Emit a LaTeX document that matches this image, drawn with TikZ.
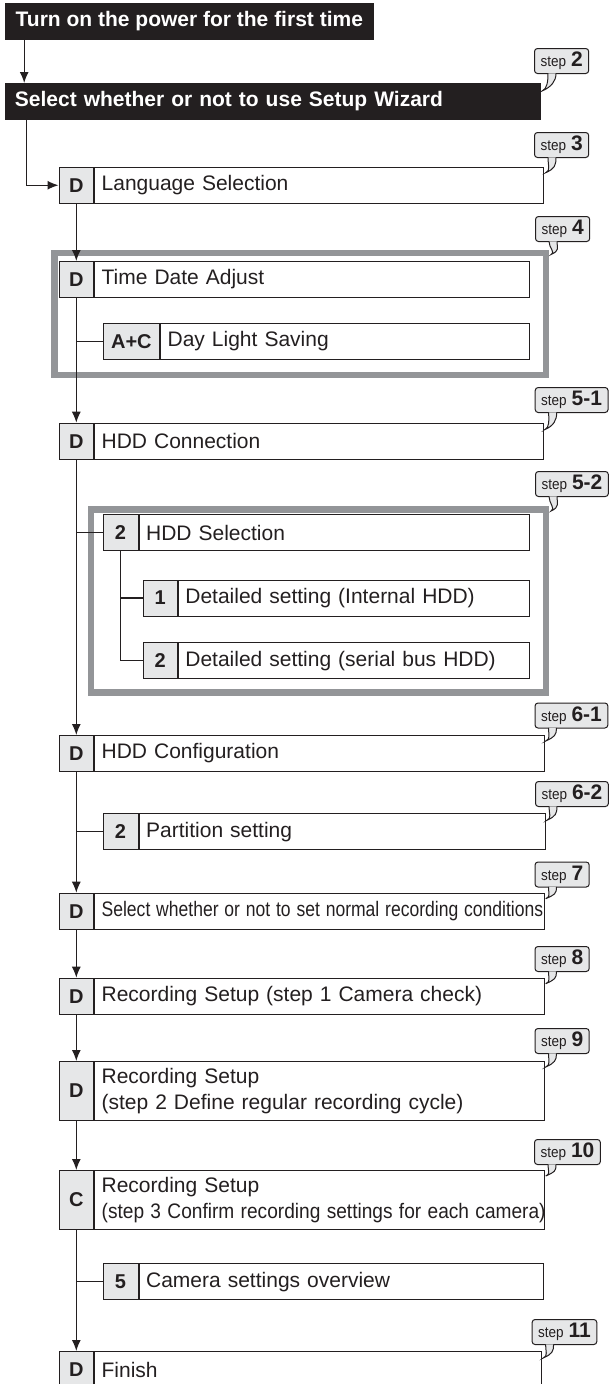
\documentclass[tikz,border=0pt]{standalone}
\usepackage{fontspec}
\usepackage{graphicx}
\setmainfont{Liberation Sans}
\usetikzlibrary{arrows.meta,calc}
\definecolor{ink}{HTML}{231F20}
\definecolor{cellgray}{HTML}{E6E7E8}
\definecolor{framegray}{HTML}{939598}
\newcommand{\steplbl}[1]{\scalebox{0.9}[1]{\fontsize{15}{20}\selectfont step}\hspace{5pt}{\fontsize{21}{20}\selectfont\bfseries #1}}

\begin{document}
\begin{tikzpicture}[x=1pt, y=-1pt,
  every node/.style={font=\fontsize{21}{26}\selectfont, text=ink},
  start/.style={fill=ink, text=white, font=\fontsize{21}{26}\selectfont\bfseries,
    anchor=north west, inner xsep=10pt, inner ysep=0pt, minimum height=36.5pt, align=left},
  cell/.style={draw=ink, line width=1.1pt, fill=cellgray, anchor=north west, inner sep=0pt,
    minimum width=34.5pt, minimum height=36pt, font=\fontsize{20}{24}\selectfont\bfseries},
  row/.style={draw=ink, line width=1.1pt, anchor=north west, inner xsep=7pt, inner ysep=0pt,
    minimum height=36pt, align=left},
  frame/.style={draw=framegray, line width=6.5pt, anchor=north west, inner sep=0pt},
  tag/.style={draw=ink, line width=1pt, fill=cellgray, rounded corners=3pt, anchor=south west,
    inner xsep=6pt, inner ysep=2pt, minimum height=25pt},
  tail/.style={draw=ink, line width=1pt, fill=cellgray},
  arr/.style={draw=ink, line width=1.2pt, -{Latex[length=11pt,width=9pt]}},
  link/.style={draw=ink, line width=1.2pt}]
  \useasboundingbox (0,0) rectangle (612,1384);

  % grey frames round the grouped settings
  \node[frame, minimum width=491.5pt, minimum height=122pt] (f4) at (51,249.5) {};
  \node[frame, minimum width=455pt, minimum height=183pt] (f52) at (87.5,506) {};

  % start of the flow
  \node[start, minimum width=368.8pt] (b1) at (4.7,3) {Turn on the power for the first time};
  \node[start, text width=516pt] (b2) at (4.7,83) {Select whether or not to use Setup Wizard};

  % main rows
  \node[cell] (lang) at (58.5,166.7) {D};
  \node[row, text width=434.5pt] (langbox) at (lang.north east) {Language Selection};

  \node[cell] (tda) at (58.5,261) {D};
  \node[row, text width=420.5pt] (tdabox) at (tda.north east) {Time Date Adjust};
  \node[cell, minimum width=56.3pt] (dls) at (102.7,322.7) {A+C};
  \node[row, text width=354.7pt] (dlsbox) at (dls.north east) {Day Light Saving};

  \node[cell] (hddc) at (58.5,422.7) {D};
  \node[row, text width=434.5pt] (hddcbox) at (hddc.north east) {HDD Connection};
  \node[cell, minimum width=35pt] (hsel) at (102.5,514) {2};
  \node[row, text width=376.5pt] (hselbox) at (hsel.north east) {HDD Selection};
  \node[cell, minimum width=34pt] (hdi) at (142.7,579.5) {1};
  \node[row, text width=336.8pt] (hdibox) at (hdi.north east) {Detailed setting (Internal HDD)};
  \node[cell, minimum width=34pt] (hds) at (142.7,642.2) {2};
  \node[row, text width=336.8pt] (hdsbox) at (hds.north east) {Detailed setting (serial bus HDD)};

  \node[cell] (hcfg) at (58.5,735) {D};
  \node[row, text width=435.5pt] (hcfgbox) at (hcfg.north east) {HDD Configuration};
  \node[cell, minimum width=35pt] (part) at (102.5,813.3) {2};
  \node[row, text width=392.2pt] (partbox) at (part.north east) {Partition setting};

  \node[cell] (norm) at (58.5,892.7) {D};
  \node[row, text width=435.5pt] (normbox) at (norm.north east)
    {\scalebox{0.835}[1]{Select whether or not to set normal recording conditions}};
  \node[cell] (rec1) at (58.5,977.7) {D};
  \node[row, text width=435.5pt] (rec1box) at (rec1.north east) {Recording Setup (step 1 Camera check)};
  \node[cell, minimum height=59pt] (rec2) at (58.5,1061) {D};
  \node[row, text width=435.5pt, minimum height=59pt] (rec2box) at (rec2.north east)
    {Recording Setup\\(step 2 Define regular recording cycle)};
  \node[cell, minimum height=59pt] (rec3) at (58.5,1170) {C};
  \node[row, text width=435.5pt, minimum height=59pt] (rec3box) at (rec3.north east)
    {Recording Setup\\\scalebox{0.91}[1]{(step 3 Confirm recording settings for each camera)}};
  \node[cell, minimum width=35pt] (cam) at (102.5,1263.3) {5};
  \node[row, text width=390pt] (cambox) at (cam.north east) {Camera settings overview};
  \node[cell] (fin) at (58.5,1351) {D};
  \node[row, text width=433pt] (finbox) at (fin.north east) {Finish};

  % step tags
  \node[tag] (s2) at (534,74) {\steplbl{2}};
  \node[tag] (s3) at (534,158) {\steplbl{3}};
  \node[tag] (s4) at (535,242) {\steplbl{4}};
  \node[tag] (s51) at (534.7,413) {\steplbl{5-1}};
  \node[tag] (s52) at (535,497) {\steplbl{5-2}};
  \node[tag] (s61) at (534.5,728.5) {\steplbl{6-1}};
  \node[tag] (s62) at (535,807) {\steplbl{6-2}};
  \node[tag] (s7) at (534.5,887.5) {\steplbl{7}};
  \node[tag] (s8) at (534.5,972) {\steplbl{8}};
  \node[tag] (s9) at (534.5,1054) {\steplbl{9}};
  \node[tag] (s10) at (534,1165) {\steplbl{10}};
  \node[tag] (s11) at (531.6,1345) {\steplbl{11}};

  \draw[tail] ($(s2.south west)+(14,-0.6)$) .. controls +(0,8) and +(5,-2) .. ($(b2.north east)+(1,8)$)
    .. controls +(9,-4) and +(0,8) .. ($(s2.south west)+(22,-0.6)$);
  \draw[tail] ($(s3.south west)+(14,-0.6)$) .. controls +(0,8) and +(5,-2) .. ($(langbox.north east)+(2,6)$)
    .. controls +(9,-4) and +(0,8) .. ($(s3.south west)+(22,-0.6)$);
  \draw[tail] ($(s4.south west)+(14,-0.6)$) .. controls +(0,7) and +(5,-2) .. ($(f4.north east)+(2,5)$)
    .. controls +(9,-4) and +(0,7) .. ($(s4.south west)+(22,-0.6)$);
  \draw[tail] ($(s51.south west)+(14,-0.6)$) .. controls +(0,8) and +(5,-2) .. ($(hddcbox.north east)+(1,7)$)
    .. controls +(9,-4) and +(0,8) .. ($(s51.south west)+(22,-0.6)$);
  \draw[tail] ($(s52.south west)+(14,-0.6)$) .. controls +(0,7) and +(5,-2) .. ($(f52.north east)+(2,5)$)
    .. controls +(9,-4) and +(0,7) .. ($(s52.south west)+(22,-0.6)$);
  \draw[tail] ($(s61.south west)+(14,-0.6)$) .. controls +(0,7) and +(5,-2) .. ($(hcfgbox.north east)+(1,6)$)
    .. controls +(9,-4) and +(0,7) .. ($(s61.south west)+(22,-0.6)$);
  \draw[tail] ($(s62.south west)+(14,-0.6)$) .. controls +(0,7) and +(5,-2) .. ($(partbox.north east)+(1,7)$)
    .. controls +(9,-4) and +(0,7) .. ($(s62.south west)+(22,-0.6)$);
  \draw[tail] ($(s7.south west)+(14,-0.6)$) .. controls +(0,7) and +(5,-2) .. ($(normbox.north east)+(1,6)$)
    .. controls +(9,-4) and +(0,7) .. ($(s7.south west)+(22,-0.6)$);
  \draw[tail] ($(s8.south west)+(14,-0.6)$) .. controls +(0,7) and +(5,-2) .. ($(rec1box.north east)+(1,6)$)
    .. controls +(9,-4) and +(0,7) .. ($(s8.south west)+(22,-0.6)$);
  \draw[tail] ($(s9.south west)+(14,-0.6)$) .. controls +(0,7) and +(5,-2) .. ($(rec2box.north east)+(1,6)$)
    .. controls +(9,-4) and +(0,7) .. ($(s9.south west)+(22,-0.6)$);
  \draw[tail] ($(s10.south west)+(14,-0.6)$) .. controls +(0,7) and +(5,-2) .. ($(rec3box.north east)+(1,6)$)
    .. controls +(9,-4) and +(0,7) .. ($(s10.south west)+(22,-0.6)$);
  \draw[tail] ($(s11.south west)+(14,-0.6)$) .. controls +(0,7) and +(5,-2) .. ($(finbox.north east)+(1,7)$)
    .. controls +(9,-4) and +(0,7) .. ($(s11.south west)+(22,-0.6)$);

  % connectors
  \draw[arr] ($(b1.south west)+(19.5,0)$) -- ($(b2.north west)+(19.5,0)$);
  \draw[arr] ($(b2.south west)+(22,0)$) |- (lang.west);
  \draw[arr] (lang.south) -- (tda.north);
  \draw[arr] (tda.south) -- (hddc.north);
  \draw[link] (dls.west) -- (dls.west -| tda.south);
  \draw[arr] (hddc.south) -- (hcfg.north);
  \draw[link] (hsel.west) -- (hsel.west -| hddc.south);
  \draw[link] (hsel.south) |- (hds.west);
  \draw[link] (hdi.west) -- (hdi.west -| hsel.south);
  \draw[arr] (hcfg.south) -- (norm.north);
  \draw[link] (part.west) -- (part.west -| hcfg.south);
  \draw[arr] (norm.south) -- (rec1.north);
  \draw[arr] (rec1.south) -- (rec2.north);
  \draw[arr] (rec2.south) -- (rec3.north);
  \draw[arr] (rec3.south) -- (fin.north);
  \draw[link] (cam.west) -- (cam.west -| rec3.south);
\end{tikzpicture}
\end{document}
